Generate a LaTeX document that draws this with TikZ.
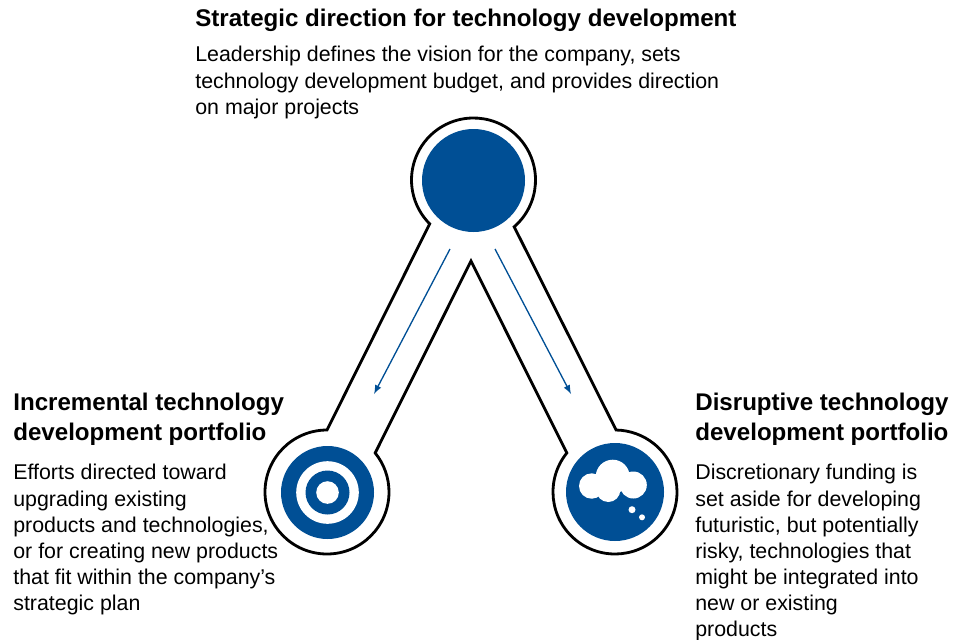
\documentclass[tikz,border=0pt]{standalone}
\usepackage{fontspec}
\usepackage{tikz}
\setmainfont{Liberation Sans}
\usetikzlibrary{calc}
\definecolor{discblue}{HTML}{004F95}
\tikzset{
  headtext/.style = {anchor = north west, inner sep = 0, align = left, font = \fontsize{13.72}{17.0}\selectfont\bfseries},
  bodytext/.style = {anchor = north west, inner sep = 0, align = left, font = \fontsize{12.16}{14.9}\selectfont},
  outline/.style = {draw = black, line width = 1.6pt, line join = miter},
  flow/.style = {->, draw = discblue, line width = 0.75pt}
}

\begin{document}
\begin{tikzpicture}[x = 0.02cm, y = -0.02cm]
  \tikzset{> = latex}
  \useasboundingbox (0,0) rectangle (962,639);
  \coordinate (topc) at (473.5,180);
  \coordinate (leftc) at (327,492);
  \coordinate (rightc) at (615,492);
  \coordinate (apex) at (471,261);
  \coordinate (lstart) at (450,249);
  \coordinate (lend) at (374,394);
  \coordinate (rstart) at (495,249);
  \coordinate (rend) at (571,394);
  % outline of the arms
  \draw [outline] ($(topc)+(49:62)$) arc (49:-225:62)
    -- ($(leftc)+(-90:62)$) arc (-90:-399:62)
    -- (apex)
    -- ($(rightc)+(-141:62)$) arc (-141:-449:62)
    -- cycle;
  \draw [flow] (lstart) -- (lend);
  \draw [flow] (rstart) -- (rend);
  % top disc
  \fill [discblue] (topc) ++(0,0.5) circle (51.5);
  % target
  \fill [discblue] (leftc) ++(0.5,0.5) circle (46.5);
  \fill [white] (leftc) ++(0.5,0.5) circle (31.3);
  \fill [discblue] (leftc) ++(0.5,0.5) circle (22);
  \fill [white] (leftc) ++(0.5,0.5) circle (11.3);
  % cloud
  \fill [discblue] (rightc) circle (49);
  \fill [white] (591.7,486) circle (12.7);
  \fill [white] (612.7,476.7) circle (17);
  \fill [white] (608.3,490) circle (12);
  \fill [white] (633.3,485) circle (13.5);
  \fill [white] (632,509.7) circle (3.5);
  \fill [white] (642,517.3) circle (3);
  % texts
  \node (tophead) [headtext] at (195,9) {Strategic direction for technology development};
  \node (topbody) [bodytext] at (195,46) {Leadership defines the vision for the company, sets\\technology development budget, and provides direction\\on major projects};
  \node (lefthead) [headtext] at (13,393) {Incremental technology\\development portfolio};
  \node (leftbody) [bodytext] at (13,464) {Efforts directed toward\\upgrading existing\\products and technologies,\\or for creating new products\\that fit within the company’s\\strategic plan};
  \node (righthead) [headtext] at (695,393) {Disruptive technology\\development portfolio};
  \node (rightbody) [bodytext] at (695,464) {Discretionary funding is\\set aside for developing\\futuristic, but potentially\\risky, technologies that\\might be integrated into\\new or existing\\products};
\end{tikzpicture}
\end{document}
